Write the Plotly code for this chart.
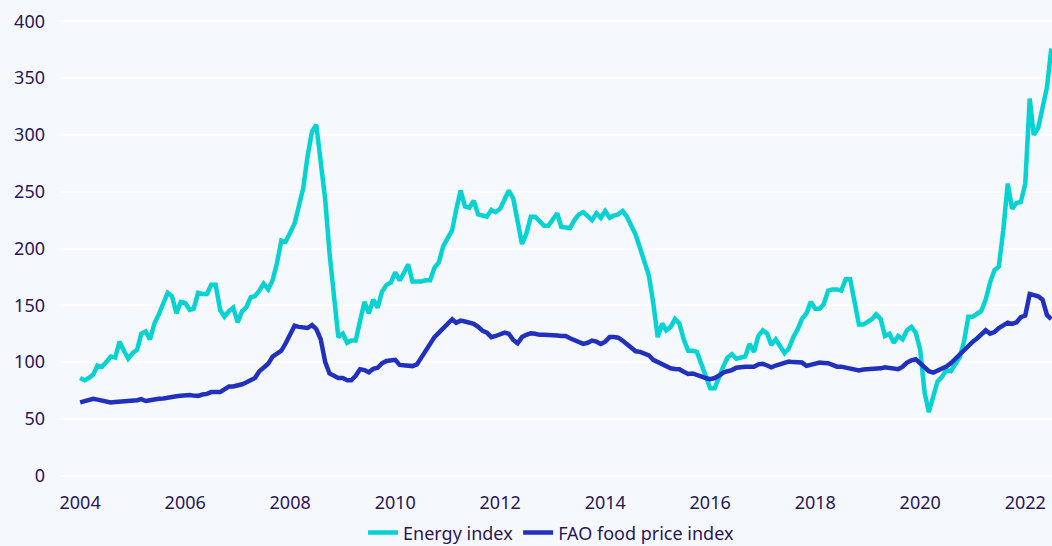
import plotly.graph_objects as go
import pandas as pd

# monthly, Jan 2004 .. Jul 2022
months = pd.date_range("2004-01-01", periods=223, freq="MS")

energy_index = [
    86, 84, 86, 89, 97, 96, 100, 105, 104, 118, 110, 103,        # 2004
    108, 111, 125, 127, 120, 134, 142, 152, 161, 158, 143, 153,  # 2005
    152, 146, 147, 161, 160, 160, 168, 168, 146, 140, 145, 148,  # 2006
    135, 145, 148, 157, 158, 163, 169, 164, 172, 187, 207, 206,  # 2007
    213, 222, 237, 253, 281, 303, 309, 278, 243, 196, 155, 122,  # 2008
    125, 117, 119, 119, 136, 153, 143, 155, 148, 162, 168, 170,  # 2009
    179, 172, 178, 186, 171, 171, 171, 172, 172, 183, 188, 202,  # 2010
    210, 216, 234, 251, 237, 236, 242, 230, 229, 228, 234, 232,  # 2011
    235, 244, 251, 244, 225, 204, 213, 228, 228, 224, 220, 220,  # 2012
    226, 231, 219, 218, 218, 225, 230, 232, 229, 225, 231, 227,  # 2013
    233, 227, 229, 230, 233, 228, 220, 212, 200, 188, 176, 152,  # 2014
    122, 134, 128, 131, 138, 134, 120, 110, 110, 109, 99, 87,    # 2015
    77, 77, 87, 96, 104, 107, 103, 104, 105, 116, 109, 123,      # 2016
    128, 125, 115, 120, 114, 108, 112, 122, 129, 138, 143, 153,  # 2017
    147, 147, 151, 163, 164, 164, 163, 173, 173, 152, 133, 133,  # 2018
    135, 138, 142, 138, 123, 125, 117, 123, 120, 128, 131, 126,  # 2019
    111, 73, 56, 70, 83, 87, 93, 92, 98, 104, 118, 140,          # 2020
    140, 143, 145, 155, 170, 181, 184, 216, 257, 235, 240, 241,  # 2021
    257, 332, 300, 306, 325, 342, 376,                           # 2022
]

fao_food_index = [
    64.5, 65.5, 67, 67.7, 67, 66, 65.5, 64.5, 64.8, 65, 65, 65.5,            # 2004
    66, 66.5, 67.4, 65.8, 66.5, 67.4, 67.8, 68, 69, 69.7, 70, 70.3,          # 2005
    70.8, 71, 70.5, 70.3, 71.5, 72, 73.6, 73.6, 73.6, 76, 78.5, 78.5,        # 2006
    79, 80.5, 82, 84, 86, 92, 95, 98.5, 104.9, 107, 110, 116.6,              # 2007
    124, 132, 131, 130, 130, 132.5, 129, 120, 100, 90, 88, 86,               # 2008
    86, 84, 84, 88, 93.8, 93, 91, 94, 95, 99, 101, 101.5,                    # 2009
    102, 97.5, 97, 97, 96.5, 98, 104, 111, 117, 122, 126, 130,               # 2010
    135, 137.7, 134.6, 136.5, 135.7, 135, 133.6, 131, 127.5, 126, 122, 123,  # 2011
    124, 126, 125, 119.5, 116.6, 122, 124, 125.4, 125, 124, 124, 124,        # 2012
    124, 123.5, 123, 123, 121, 119, 117, 116, 117, 119, 118, 116,            # 2013
    118, 122, 122, 121.5, 119, 116, 113, 109.5, 109, 108, 106, 102,          # 2014
    100, 97.6, 96, 94.6, 94, 93.7, 91.5, 89.5, 90, 88.5, 87, 86,             # 2015
    85, 86, 88, 90.8, 92, 93, 95, 96, 96, 96, 96, 98,                        # 2016
    98.5, 97, 95.5, 97, 98.5, 99.5, 100.5, 100, 99.6, 99.6, 96.7, 97.5,      # 2017
    98.5, 99.6, 99.3, 99, 97.5, 96, 96, 95, 94, 92.6, 92.6, 93.5,            # 2018
    93.8, 93.8, 93.8, 94.5, 95.5, 95, 94, 93.8, 96, 99.6, 101.5, 102.5,      # 2019
    99, 95, 92, 90.8, 92.5, 93.8, 96, 99, 103, 107, 111, 115,                # 2020
    118, 121, 124, 128, 125, 126.5, 130, 132, 134.8, 133.6, 135, 139.5,      # 2021
    141, 160, 159, 158, 155, 141.5, 137.7,                                   # 2022
]

y_ticks = [0, 50, 100, 150, 200, 250, 300, 350, 400]
x_years = list(range(2004, 2023, 2))

BG = "#f5f9fe"
TEXT = "#2b1655"
CYAN = "#05d3d3"
BLUE = "#2131be"

fig = go.Figure()

fig.add_trace(go.Scatter(
    x=months, y=energy_index, mode="lines", name="Energy index",
    line=dict(color=CYAN, width=4.5),
))
fig.add_trace(go.Scatter(
    x=months, y=fao_food_index, mode="lines", name="FAO food price index",
    line=dict(color=BLUE, width=4.5),
))

fig.update_layout(
    width=1052,
    height=546,
    paper_bgcolor=BG,
    plot_bgcolor=BG,
    font=dict(family="Noto Sans", size=18, color=TEXT),
    margin=dict(l=60, r=0, t=19, b=68, autoexpand=False),
    showlegend=True,
    legend=dict(
        orientation="h",
        x=0.495,
        xanchor="center",
        yref="container",
        y=0.024,
        yanchor="middle",
        font=dict(size=18, color=TEXT),
        bgcolor="rgba(0,0,0,0)",
    ),
    xaxis=dict(
        range=["2003-08-14", "2022-07-06"],
        tickvals=[f"{y}-01-01" for y in x_years],
        ticktext=[str(y) for y in x_years],
        showgrid=False,
        zeroline=False,
        showline=False,
        ticks="",
        ticklabelstandoff=12,
    ),
    yaxis=dict(
        range=[-2, 402],
        tickvals=y_ticks,
        showgrid=True,
        gridcolor="white",
        gridwidth=2,
        zeroline=True,
        zerolinecolor="white",
        zerolinewidth=2,
        showline=False,
        ticks="",
        ticklabelstandoff=14,
    ),
)

# page body has a default margin; drop it so the figure sits at the corner
fig.write_html(
    "out.html",
    config={"displayModeBar": False},
    post_script="document.body.style.margin='0';",
)
